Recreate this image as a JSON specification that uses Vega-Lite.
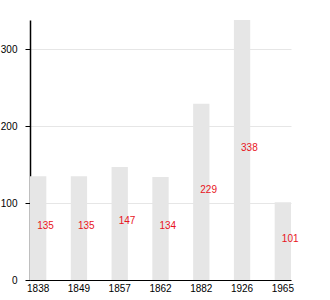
{
  "$schema": "https://vega.github.io/schema/vega-lite/v6.json",
  "width": 261,
  "height": 260,
  "autosize": "none",
  "padding": {"left": 30, "top": 20, "right": 39, "bottom": 20},
  "config": {
    "font": "Liberation Sans",
    "view": {"stroke": null},
    "axis": {"labelFont": "Liberation Sans", "labelFontSize": 10, "labelColor": "#000", "domainColor": "#000", "tickColor": "#000", "gridColor": "#e6e6e6"}
  },
  "data": {"values": [
    {"year": "1838", "value": 135},
    {"year": "1849", "value": 135},
    {"year": "1857", "value": 147},
    {"year": "1862", "value": 134},
    {"year": "1882", "value": 229},
    {"year": "1926", "value": 338},
    {"year": "1965", "value": 101}
  ]},
  "encoding": {
    "x": {"field": "year", "type": "nominal", "sort": null,
      "scale": {"paddingInner": 0.6, "paddingOuter": 0},
      "axis": {"title": null, "labelAngle": 0, "ticks": false, "labelPadding": 3}}
  },
  "layer": [
    {
      "mark": {"type": "bar", "color": "#e6e6e6"},
      "encoding": {
        "y": {"field": "value", "type": "quantitative",
          "scale": {"domain": [0, 338], "nice": false},
          "axis": {"title": null, "values": [0, 100, 200, 300], "tickSize": 5, "labelPadding": 8, "domainWidth": 1.5}}
      }
    },
    {
      "mark": {"type": "text", "align": "left", "baseline": "middle", "color": "#e8141c", "fontSize": 10, "dy": -2, "dx": -1},
      "encoding": {
        "y": {"field": "value", "type": "quantitative", "scale": {"domain": [0, 676], "nice": false}, "axis": null},
        "text": {"field": "value", "type": "quantitative"}
      }
    }
  ],
  "resolve": {"scale": {"y": "independent"}}
}
